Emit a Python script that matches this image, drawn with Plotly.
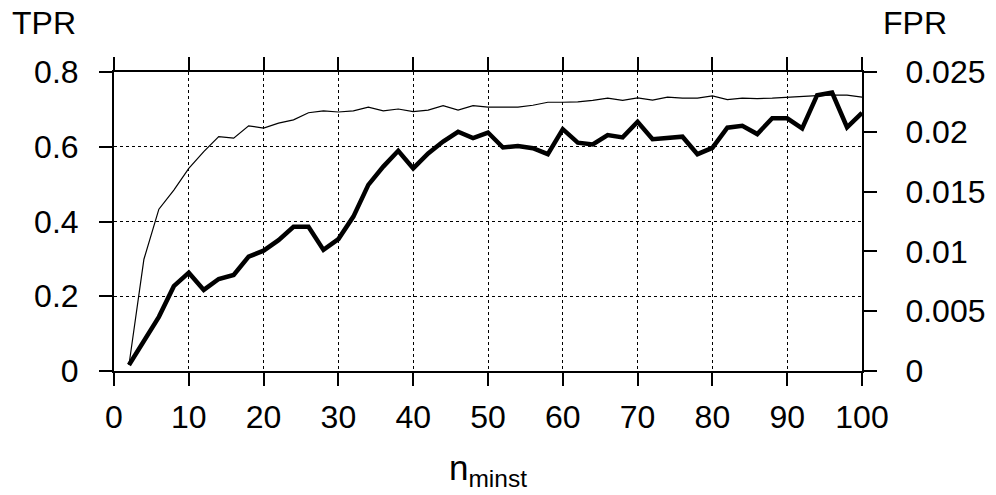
import plotly.graph_objects as go

n_minst = list(range(2, 101, 2))

tpr = [0.016, 0.299, 0.433, 0.484, 0.542, 0.587, 0.627, 0.623, 0.656, 0.650,
       0.663, 0.672, 0.691, 0.696, 0.693, 0.696, 0.706, 0.696, 0.701, 0.694,
       0.698, 0.710, 0.698, 0.710, 0.706, 0.707, 0.706, 0.711, 0.719, 0.719,
       0.720, 0.724, 0.730, 0.724, 0.731, 0.725, 0.733, 0.730, 0.730, 0.736,
       0.726, 0.730, 0.729, 0.730, 0.733, 0.736, 0.737, 0.738, 0.738, 0.733]

fpr = [0.0005, 0.0025, 0.00453, 0.00709, 0.00822, 0.00678, 0.00769, 0.00803, 0.00956, 0.01006,
       0.01094, 0.01206, 0.01206, 0.01013, 0.01103, 0.01291, 0.01556, 0.01709, 0.01841, 0.01694,
       0.01819, 0.01919, 0.02000, 0.01947, 0.01994, 0.01869, 0.01881, 0.01863, 0.01813, 0.02022,
       0.01909, 0.01894, 0.01972, 0.01953, 0.02084, 0.01938, 0.01947, 0.01959, 0.01813, 0.01866,
       0.02034, 0.02050, 0.01981, 0.02113, 0.02113, 0.02028, 0.02306, 0.02328, 0.02038, 0.02159]

x_ticks = list(range(0, 101, 10))
tpr_ticks = [0, 0.2, 0.4, 0.6, 0.8]
tpr_labels = ["0", "0.2", "0.4", "0.6", "0.8"]
fpr_ticks = [0, 0.005, 0.01, 0.015, 0.02, 0.025]
fpr_labels = ["0", "0.005", "0.01", "0.015", "0.02", "0.025"]

FONT = "Liberation Sans, Arial, Helvetica, sans-serif"
FS = 32

# page body adds an 8px offset; compensate in margins
OFF = 8
W, H = 996, 495
ML, MT, MR, MB = 114 - OFF, 72 - OFF, 134 + OFF, 124 + OFF
plot_w = W - ML - MR
plot_h = H - MT - MB


def px_to_paper(px, py):
    return (px - OFF - ML) / plot_w, (H - MB - (py - OFF)) / plot_h


fig = go.Figure()
fig.add_trace(go.Scatter(x=n_minst, y=tpr, mode="lines", name="TPR",
                         line=dict(color="black", width=1.2), yaxis="y"))
fig.add_trace(go.Scatter(x=n_minst, y=fpr, mode="lines", name="FPR",
                         line=dict(color="black", width=4.5), yaxis="y2"))

tx, ty = px_to_paper(10, 23)
fx, fy = px_to_paper(881, 23)

fig.update_layout(
    width=W, height=H,
    margin=dict(l=ML, r=MR, t=MT, b=MB),
    paper_bgcolor="white", plot_bgcolor="white",
    showlegend=False,
    font=dict(family=FONT, size=FS, color="black"),
    xaxis=dict(range=[0, 100], tickvals=x_ticks, ticks="outside", ticklen=13,
               tickwidth=2, tickcolor="black", showline=True, linewidth=2,
               linecolor="black", mirror="allticks", showgrid=True,
               gridcolor="black", griddash="dot", gridwidth=1, zeroline=False,
               ticklabelstandoff=4,
               title=dict(text="n<sub>minst</sub>", standoff=21,
                          font=dict(size=35))),
    yaxis=dict(range=[0, 0.8], tickvals=tpr_ticks, ticktext=tpr_labels,
               ticks="outside", ticklen=13, tickwidth=2, tickcolor="black",
               showline=True, linewidth=2, linecolor="black", mirror=False,
               showgrid=True, gridcolor="black", griddash="dot", gridwidth=1,
               zeroline=False, ticklabelstandoff=14),
    yaxis2=dict(range=[0, 0.025], tickvals=fpr_ticks, ticktext=fpr_labels,
                overlaying="y", side="right", ticks="outside", ticklen=13,
                tickwidth=2, tickcolor="black", showline=True, linewidth=2,
                linecolor="black", showgrid=False, zeroline=False,
                ticklabelstandoff=22),
    annotations=[
        dict(text="TPR", x=tx, y=ty, xref="paper", yref="paper",
             showarrow=False, xanchor="left", yanchor="middle",
             font=dict(size=32, family=FONT, color="black")),
        dict(text="FPR", x=fx, y=fy, xref="paper", yref="paper",
             showarrow=False, xanchor="left", yanchor="middle",
             font=dict(size=32, family=FONT, color="black")),
    ],
)

fig.write_html("out.html")
